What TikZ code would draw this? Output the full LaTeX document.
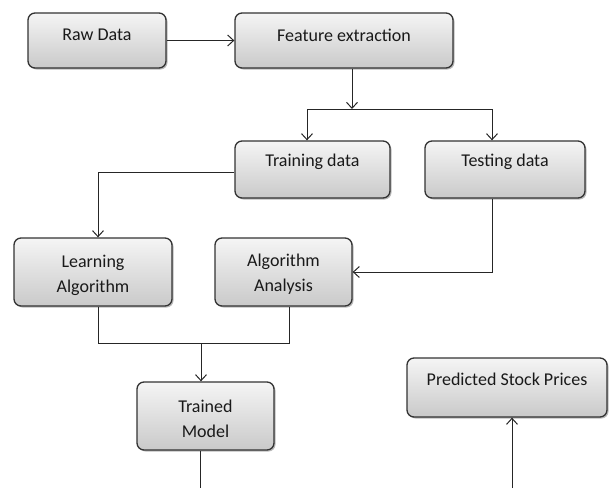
\documentclass[tikz,border=0pt]{standalone}
\usepackage{fontspec}
\setmainfont{Carlito}
\usetikzlibrary{arrows.meta,shadows,calc}
\begin{document}
\begin{tikzpicture}[x=1pt,y=-1pt,
  box/.style={draw=black!80, line width=1.3pt, rounded corners=7pt,
    top color=gray!8, bottom color=gray!42,
    drop shadow={shadow xshift=1.5pt, shadow yshift=-1.5pt, fill=black!45, opacity=0.6},
    inner sep=0pt},
  lbl/.style={font=\fontsize{18}{25}\selectfont, text=black!90, align=center, inner sep=0pt},
  conn/.style={draw=black!85, line width=1pt},
  arr/.style={conn, -{Straight Barb[length=6pt,width=11pt,line width=1pt]}}]
\useasboundingbox (0,0) rectangle (613,488);
% boxes
\node[box, minimum width=138pt, minimum height=55pt] (raw) at (97,40.5) {};
\node[box, minimum width=218pt, minimum height=55pt] (feat) at (344,40.5) {};
\node[box, minimum width=155pt, minimum height=57pt] (train) at (312.5,169.5) {};
\node[box, minimum width=160pt, minimum height=57pt] (test) at (505,169.5) {};
\node[box, minimum width=158pt, minimum height=68pt] (learn) at (93,272) {};
\node[box, minimum width=137pt, minimum height=68pt] (anal) at (283.5,272) {};
\node[box, minimum width=137pt, minimum height=68pt] (trained) at (205.5,416) {};
\node[box, minimum width=200pt, minimum height=59pt] (pred) at (507,387.5) {};
% labels
\node[lbl] (rawt) at (97,35) {Raw Data};
\node[lbl] (featt) at (344,35) {Feature extraction};
\node[lbl] (traint) at (312.5,162) {Training data};
\node[lbl] (testt) at (505,162) {Testing data};
\node[lbl] (learnt) at (93,275.5) {Learning\\Algorithm};
\node[lbl] (analt) at (283.5,274.5) {Algorithm\\Analysis};
\node[lbl] (trainedt) at (205.5,418.5) {Trained\\Model};
\node[lbl] (predt) at (507,379) {Predicted Stock Prices};
% coordinates
\coordinate (sp) at (352,109);
\coordinate (tl) at (307,109);
\coordinate (tr) at (492,109);
\coordinate (jm) at (201,343);
\coordinate (jn) at (289,343);
\coordinate (b1) at (200,488);
\coordinate (b2) at (512,488);
% connectors
\draw[arr] (raw.east) -- (feat.west);
\draw[arr] (feat.south -| sp) -- (sp);
\draw[conn] (tl) -- (tr);
\draw[arr] (tl) -- (train.north -| tl);
\draw[arr] (tr) -- (test.north -| tr);
\draw[arr] ([yshift=-2.5pt]train.west) -| ([xshift=5pt]learn.north);
\draw[arr] (test.south -| tr) |- (anal.east);
\draw[conn] ([xshift=5pt]learn.south) |- (jn) -- (anal.south -| jn);
\draw[arr] (jm) -- (trained.north -| jm);
\draw[conn] (trained.south -| b1) -- (b1);
\draw[arr] (b2) -- (pred.south -| b2);
\end{tikzpicture}
\end{document}
